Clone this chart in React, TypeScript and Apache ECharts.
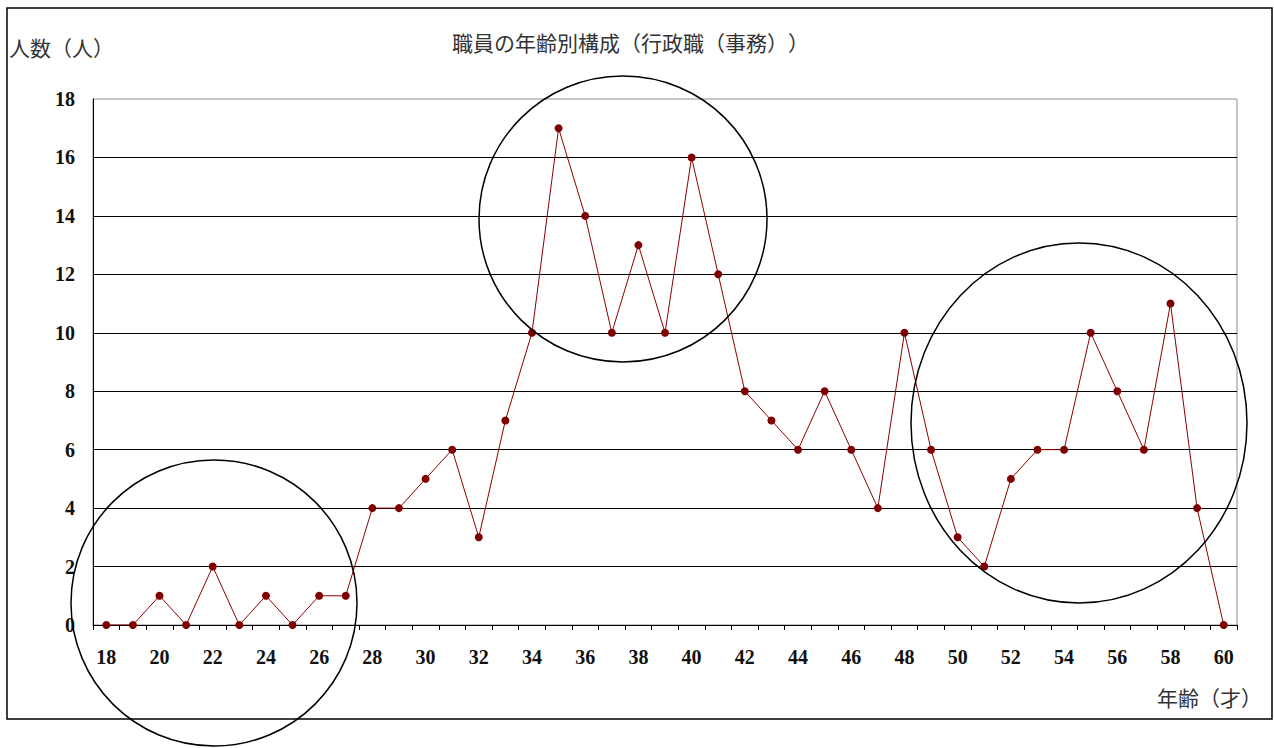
import React, { useEffect, useRef } from "react";
import * as echarts from "echarts";

// Age (years) on the x axis
const ages: string[] = [];
for (let a = 18; a <= 60; a++) ages.push(String(a));

// Number of staff at each age
const staffCounts = [
  0, 0, 1, 0, 2, 0, 1, 0, 1, 1, // 18-27
  4, 4, 5, 6, 3, 7, 10, 17, 14, 10, // 28-37
  13, 10, 16, 12, 8, 7, 6, 8, 6, 4, // 38-47
  10, 6, 3, 2, 5, 6, 6, 10, 8, 6, // 48-57
  11, 4, 0, // 58-60
];

const titleText = "職員の年齢別構成（行政職（事務））";
const yName = "人数（人）";
const xName = "年齢（才）";

export default function App() {
  const ref = useRef<HTMLDivElement>(null);

  useEffect(() => {
    if (!ref.current) return;
    const chart = echarts.init(ref.current, undefined, { renderer: "svg" });
    const serif = "'Liberation Serif', 'DejaVu Serif', serif";
    const cjk = "'Noto Sans CJK JP', sans-serif";
    chart.setOption({
      animation: false,
      backgroundColor: "#ffffff",
      grid: {
        left: 93,
        top: 99,
        width: 1144,
        height: 526,
        show: true,
        borderColor: "#8c8c8c",
        borderWidth: 1,
      },
      xAxis: {
        type: "category",
        data: ages,
        boundaryGap: true,
        axisLine: { lineStyle: { color: "#000", width: 1 } },
        axisTick: {
          show: true,
          interval: 0,
          alignWithLabel: false,
          length: 5,
          lineStyle: { color: "#000" },
        },
        axisLabel: {
          interval: 1,
          color: "#111",
          fontFamily: serif,
          fontWeight: "bold",
          fontSize: 20,
          margin: 22,
        },
        splitLine: { show: false },
      },
      yAxis: {
        type: "value",
        min: 0,
        max: 18,
        interval: 2,
        axisLine: { show: true, lineStyle: { color: "#000", width: 1 } },
        axisTick: { show: false },
        axisLabel: {
          color: "#111",
          fontFamily: serif,
          fontWeight: "bold",
          fontSize: 20,
          margin: 18,
        },
        splitLine: {
          show: true,
          showMaxLine: false,
          lineStyle: { color: "#000", width: 1 },
        },
      },
      series: [
        {
          type: "line",
          data: staffCounts,
          symbol: "circle",
          symbolSize: 8,
          lineStyle: { color: "#8b0000", width: 1 },
          itemStyle: { color: "#800000" },
          z: 5,
        },
      ],
      graphic: [
        {
          type: "rect",
          shape: { x: 7, y: 8, width: 1265, height: 711 },
          style: { fill: "none", stroke: "#000", lineWidth: 1.5 },
          z: 0,
          silent: true,
        },
        {
          type: "text",
          x: 452,
          y: 42,
          style: {
            text: titleText,
            font: `21px ${cjk}`,
            fill: "#333",
            textAlign: "left",
            textVerticalAlign: "middle",
          },
        },
        {
          type: "text",
          x: 9,
          y: 47,
          style: {
            text: yName,
            font: `21px ${cjk}`,
            fill: "#333",
            textAlign: "left",
            textVerticalAlign: "middle",
          },
        },
        {
          type: "text",
          x: 1157,
          y: 697,
          style: {
            text: xName,
            font: `21px ${cjk}`,
            fill: "#333",
            textAlign: "left",
            textVerticalAlign: "middle",
          },
        },
        {
          type: "ellipse",
          shape: { cx: 214, cy: 603, rx: 143, ry: 143 },
          style: { fill: "none", stroke: "#000", lineWidth: 1.5 },
          z: 10,
          silent: true,
        },
        {
          type: "ellipse",
          shape: { cx: 623, cy: 219, rx: 144, ry: 143 },
          style: { fill: "none", stroke: "#000", lineWidth: 1.5 },
          z: 10,
          silent: true,
        },
        {
          type: "ellipse",
          shape: { cx: 1079, cy: 423, rx: 168, ry: 180 },
          style: { fill: "none", stroke: "#000", lineWidth: 1.5 },
          z: 10,
          silent: true,
        },
      ],
    });
    return () => chart.dispose();
  }, []);

  return (
    <div
      ref={ref}
      style={{
        position: "absolute",
        left: 0,
        top: 0,
        width: 1274,
        height: 748,
        textSpacingTrim: "space-all",
      } as React.CSSProperties}
    />
  );
}
